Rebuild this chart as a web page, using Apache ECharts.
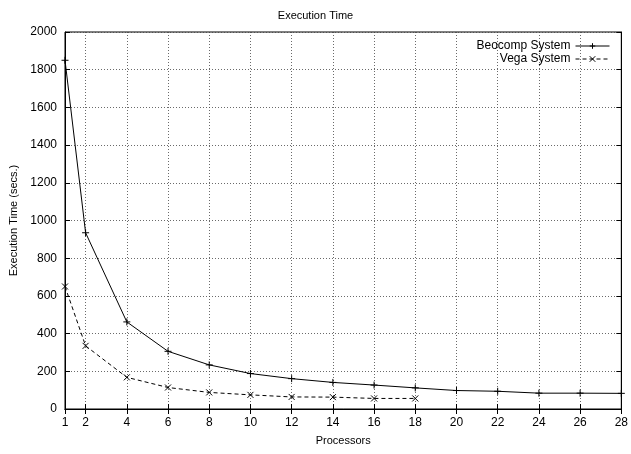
<!DOCTYPE html>
<html>
<head>
<meta charset="utf-8">
<script src="https://cdn.jsdelivr.net/npm/echarts@6/dist/echarts.min.js"></script>
<style>
  html, body { margin: 0; padding: 0; background: #fff; }
  #chart { width: 631px; height: 454px; }
</style>
</head>
<body>
<div id="chart"></div>
<script>
// data
const xTicks = [1, 2, 4, 6, 8, 10, 12, 14, 16, 18, 20, 22, 24, 26, 28];
const beocompX = [1, 2, 4, 6, 8, 10, 12, 14, 16, 18, 20, 22, 24, 26, 28];
const beocompY = [1850, 935, 462, 306, 234, 188, 161, 141, 127, 112, 98, 94, 84, 84, 83];
const vegaX = [1, 2, 4, 6, 8, 10, 12, 14, 16, 18];
const vegaY = [650, 335, 168, 114, 88, 75, 64, 63, 56, 56];

const plusPath = 'path://M0,5L10,5M5,0L5,10';
const crossPath = 'path://M0,0L10,10M10,0L0,10';

const font = '"Liberation Sans", Arial, sans-serif';
const chart = echarts.init(document.getElementById('chart'));

function pairs(xs, ys) {
  return xs.map((x, i) => [x, ys[i]]);
}

const gridLine = { show: true, lineStyle: { color: '#444', width: 0.8, type: [1, 2] } };

chart.setOption({
  animation: false,
  textStyle: { fontFamily: font, color: '#000' },
  title: {
    text: 'Execution Time',
    left: 'center',
    top: 5,
    textStyle: { fontSize: 11, fontWeight: 'normal', color: '#000', fontFamily: font }
  },
  legend: {
    orient: 'vertical',
    right: 16,
    top: 35,
    align: 'right',
    itemWidth: 34,
    itemHeight: 7,
    itemGap: 1,
    lineStyle: { width: 1 },
    itemStyle: { borderWidth: 1 },
    textStyle: { fontSize: 12, lineHeight: 12, color: '#000', width: 110, align: 'right', fontFamily: font },
    data: ['Beocomp System', 'Vega System']
  },
  grid: {
    left: 65, right: 6, top: 32, bottom: 45,
    show: true, borderColor: '#000', borderWidth: 1
  },
  xAxis: [{
    type: 'value',
    min: 1, max: 28,
    name: 'Processors',
    nameLocation: 'middle',
    nameGap: 26,
    nameTextStyle: { fontSize: 11, color: '#000' },
    axisLine: { lineStyle: { color: '#000' } },
    axisTick: { inside: true, length: 5, lineStyle: { color: '#000' }, customValues: xTicks },
    axisLabel: { fontSize: 12, color: '#000', margin: 8, customValues: xTicks },
    splitLine: gridLine
  }, {
    type: 'value',
    min: 1, max: 28,
    position: 'top',
    axisLine: { lineStyle: { color: '#000' } },
    axisTick: { inside: true, length: 5, lineStyle: { color: '#000' }, customValues: xTicks },
    axisLabel: { show: false },
    splitLine: { show: false }
  }],
  yAxis: [{
    type: 'value',
    min: 0, max: 2000, interval: 200,
    name: 'Execution Time (secs.)',
    nameLocation: 'middle',
    nameGap: 46,
    nameTextStyle: { fontSize: 11, color: '#000' },
    axisLine: { show: true, lineStyle: { color: '#000' } },
    axisTick: { show: true, inside: true, length: 5, lineStyle: { color: '#000' } },
    axisLabel: { fontSize: 12, color: '#000', margin: 8, formatter: v => String(v) },
    splitLine: gridLine
  }, {
    type: 'value',
    min: 0, max: 2000, interval: 200,
    position: 'right',
    axisLine: { show: true, lineStyle: { color: '#000' } },
    axisTick: { show: true, inside: true, length: 5, lineStyle: { color: '#000' } },
    axisLabel: { show: false },
    splitLine: { show: false }
  }],
  series: [{
    name: 'Beocomp System',
    type: 'line',
    data: pairs(beocompX, beocompY),
    symbol: plusPath,
    symbolSize: 7,
    showAllSymbol: true,
    lineStyle: { color: '#000', width: 1 },
    itemStyle: { color: 'none', borderColor: '#000', borderWidth: 1 }
  }, {
    name: 'Vega System',
    type: 'line',
    data: pairs(vegaX, vegaY),
    symbol: crossPath,
    symbolSize: 6,
    showAllSymbol: true,
    lineStyle: { color: '#000', width: 1, type: [4, 3] },
    itemStyle: { color: 'none', borderColor: '#000', borderWidth: 1 }
  }]
});
</script>
</body>
</html>
